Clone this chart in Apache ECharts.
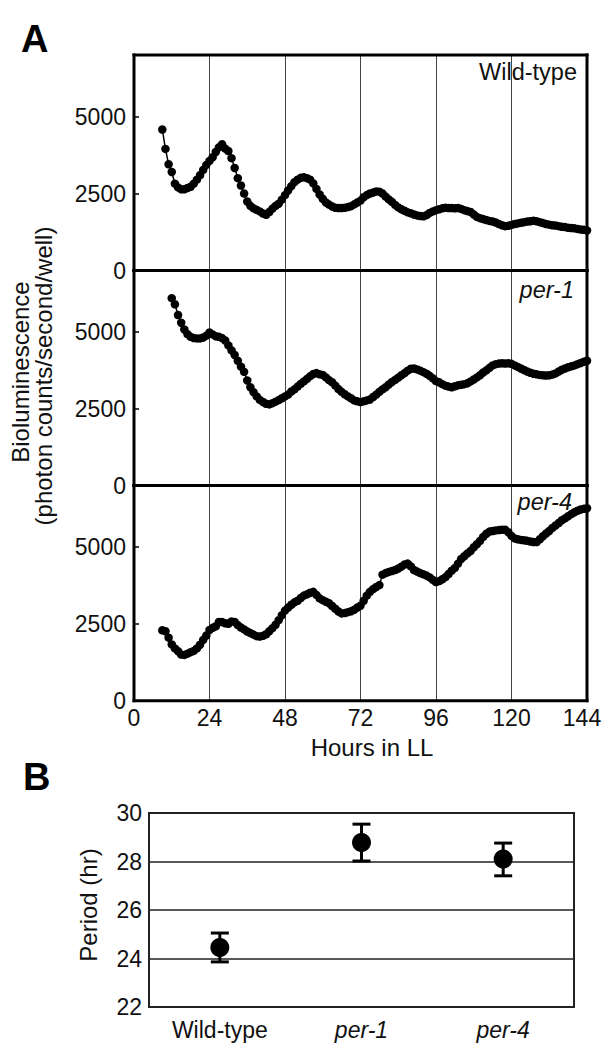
<!DOCTYPE html>
<html>
<head>
<meta charset="utf-8">
<script src="https://cdn.jsdelivr.net/npm/echarts@6/dist/echarts.min.js"></script>
<style>
html,body{margin:0;padding:0;background:#fff;}
#chart{width:603px;height:1043px;}
</style>
</head>
<body>
<div id="chart"></div>
<script>
// ---------- DATA ----------
const hourTicks = [0, 24, 48, 72, 96, 120, 144];
const bioTicks = [0, 2500, 5000];
const panelNames = ['Wild-type', 'per-1', 'per-4'];

// hourly bioluminescence readings, first reading at the start hour
const wtStartHour = 9;
const wtValues = [4580,3950,3450,3200,2820,2700,2640,2640,2680,2720,2820,2950,3100,3270,3430,3560,3680,3850,4000,4100,
3960,3880,3650,3330,3000,2760,2500,2240,2100,2020,1970,1920,1850,1810,1900,2010,2100,2170,2300,2450,
2600,2740,2870,2950,3010,3030,3000,2950,2830,2650,2470,2330,2210,2140,2080,2040,2030,2030,2040,2060,
2090,2150,2210,2270,2380,2450,2500,2530,2570,2560,2500,2400,2310,2230,2130,2050,1990,1940,1890,1860,
1820,1790,1770,1760,1800,1870,1920,1960,1990,2020,2040,2030,2030,2020,2030,2000,1960,1930,1900,1820,
1740,1700,1670,1640,1610,1590,1560,1510,1470,1440,1450,1480,1510,1530,1550,1570,1590,1600,1620,1600,
1570,1540,1510,1490,1470,1460,1440,1420,1410,1390,1380,1370,1350,1330,1320,1300];

const per1StartHour = 12;
const per1Values = [6100,5900,5550,5300,5080,4930,4840,4800,4790,4790,4820,4880,4980,4920,4860,4840,4800,4720,4560,4400,
4250,4060,3870,3700,3420,3200,3040,2900,2790,2720,2660,2640,2680,2730,2780,2840,2900,2960,3060,3130,
3220,3310,3390,3470,3560,3630,3660,3620,3600,3520,3430,3360,3250,3140,3050,2970,2900,2840,2770,2740,
2720,2740,2770,2800,2880,2960,3050,3130,3200,3290,3370,3440,3510,3590,3660,3740,3800,3810,3780,3740,
3690,3640,3570,3490,3400,3360,3300,3250,3220,3200,3230,3260,3280,3300,3330,3390,3450,3520,3590,3680,
3750,3830,3910,3950,3970,3980,3970,3980,3960,3910,3860,3810,3760,3710,3670,3640,3620,3600,3590,3580,
3590,3610,3650,3710,3770,3810,3850,3880,3910,3950,3990,4030,4060];

const per4StartHour = 9;
const per4Values = [2290,2260,2050,1830,1700,1610,1500,1490,1530,1580,1620,1700,1820,1980,2120,2300,2370,2420,2560,2560,
2520,2500,2580,2560,2460,2380,2320,2250,2200,2150,2100,2090,2110,2160,2260,2360,2470,2620,2780,2930,
3030,3120,3200,3250,3340,3420,3460,3510,3540,3440,3330,3270,3220,3170,3080,2990,2900,2840,2850,2880,
2910,2960,3030,3090,3250,3420,3540,3630,3700,3760,4100,4150,4190,4220,4250,4300,4360,4430,4460,4370,
4250,4200,4150,4110,4070,4010,3930,3860,3890,3950,4020,4120,4230,4320,4460,4610,4700,4790,4870,4990,
5090,5200,5330,5430,5500,5520,5540,5550,5560,5560,5480,5360,5280,5250,5230,5220,5200,5180,5160,5160,
5250,5350,5440,5520,5620,5700,5780,5870,5930,6000,6070,6130,6180,6220,6240,6260];

// Panel B: free-running period
const genotypes = ['Wild-type', 'per-1', 'per-4'];
const periodMean = [24.45, 28.78, 28.1];
const periodLow = [23.86, 28.02, 27.41];
const periodHigh = [25.05, 29.54, 28.76];
const periodTicks = [22, 24, 26, 28, 30];

// ---------- CHART ----------
const FONT = 'Arial, "Liberation Sans", sans-serif';
const TXT = '#111';
const chart = echarts.init(document.getElementById('chart'), null, {renderer: 'svg'});

function toPairs(start, vals) { return vals.map((v, i) => [start + i, v]); }
const seriesData = [toPairs(wtStartHour, wtValues), toPairs(per1StartHour, per1Values), toPairs(per4StartHour, per4Values)];

const boxA = [
  {left: 134, width: 453, top: 55, height: 215.5},
  {left: 134, width: 453, top: 270.5, height: 215},
  {left: 134, width: 453, top: 485.5, height: 215.2}
];
const boxB = {left: 149, width: 425, top: 813, height: 194};

const grid = boxA.map(g => ({
  left: g.left, width: g.width, top: g.top, height: g.height,
  show: false, containLabel: false, outerBoundsMode: 'none'
}));
grid.push({left: boxB.left, width: boxB.width, top: boxB.top, height: boxB.height, show: false,
  containLabel: false, outerBoundsMode: 'none'});

const xAxis = [];
const yAxis = [];
[0, 1, 2].forEach(i => {
  xAxis.push({
    type: 'value', gridIndex: i, min: 0, max: 144, interval: 24, position: 'bottom',
    axisLine: {show: false},
    axisTick: {show: false},
    axisLabel: {show: i === 2, fontSize: 23, color: TXT, fontFamily: FONT, margin: 6,
      customValues: hourTicks,
      formatter: v => v === 144 ? '{m|144}' : String(v),
      rich: {m: {fontSize: 23, color: TXT, fontFamily: FONT, padding: [0, 10, 0, 0]}}},
    splitLine: {show: true, lineStyle: {color: '#444', width: 1}}
  });
  yAxis.push({
    type: 'value', gridIndex: i, min: 0, max: 7000, interval: 2500, position: 'left',
    axisLine: {show: false},
    axisTick: {show: true, inside: true, length: 5, lineStyle: {color: '#000', width: 1.5}, customValues: bioTicks},
    axisLabel: {fontSize: 23, color: TXT, fontFamily: FONT, margin: 8, customValues: bioTicks,
      formatter: v => String(v)},
    splitLine: {show: false}
  });
});

xAxis.push({
  type: 'category', gridIndex: 3, data: genotypes, boundaryGap: true,
  axisLine: {show: false}, axisTick: {show: false},
  axisLabel: {fontSize: 23, color: TXT, fontFamily: FONT, margin: 11,
    formatter: v => v === 'Wild-type' ? v : '{i|' + v + '}',
    rich: {i: {fontStyle: 'italic', fontSize: 23, color: TXT, fontFamily: FONT}}},
  splitLine: {show: false}
});
yAxis.push({
  type: 'value', gridIndex: 3, min: 22, max: 30, interval: 2,
  axisLine: {show: false}, axisTick: {show: false},
  axisLabel: {fontSize: 23, color: TXT, fontFamily: FONT, margin: 7, customValues: periodTicks},
  splitLine: {show: true, lineStyle: {color: '#222', width: 1.5}}
});

const series = seriesData.map((d, i) => ({
  type: 'line', xAxisIndex: i, yAxisIndex: i, data: d,
  symbol: 'circle', symbolSize: 8.5, showSymbol: true,
  itemStyle: {color: '#000', opacity: 1}, lineStyle: {color: '#000', width: 1.5},
  silent: true, animation: false, z: 3
}));

series.push({
  type: 'custom', xAxisIndex: 3, yAxisIndex: 3,
  data: genotypes.map((g, i) => [i, periodLow[i], periodHigh[i]]),
  renderItem: function (params, api) {
    const lo = api.coord([api.value(0), api.value(1)]);
    const hi = api.coord([api.value(0), api.value(2)]);
    const cap = 9;
    const st = {stroke: '#000', lineWidth: 3};
    return {type: 'group', children: [
      {type: 'line', shape: {x1: lo[0], y1: lo[1], x2: hi[0], y2: hi[1]}, style: st},
      {type: 'line', shape: {x1: lo[0] - cap, y1: lo[1], x2: lo[0] + cap, y2: lo[1]}, style: st},
      {type: 'line', shape: {x1: hi[0] - cap, y1: hi[1], x2: hi[0] + cap, y2: hi[1]}, style: st}
    ]};
  },
  silent: true, animation: false, z: 4
});
series.push({
  type: 'scatter', xAxisIndex: 3, yAxisIndex: 3,
  data: periodMean.map((v, i) => [i, v]),
  symbol: 'circle', symbolSize: 19, itemStyle: {color: '#000', opacity: 1},
  silent: true, animation: false, z: 5
});

function txt(text, x, y, opts) {
  opts = opts || {};
  return {
    type: 'text', x: x, y: y, rotation: opts.rotation || 0, z: 10, silent: true,
    style: {
      text: text, x: 0, y: 0,
      fontSize: opts.fontSize || 23, fontFamily: FONT,
      fontWeight: opts.fontWeight || 'normal', fontStyle: opts.fontStyle || 'normal',
      fill: opts.fill || TXT, align: opts.align || 'center', verticalAlign: 'middle'
    }
  };
}
// frame of a panel drawn as four edges
function frame(b, color, lw) {
  const l = b.left, t = b.top, r = b.left + b.width, btm = b.top + b.height;
  const st = {stroke: color, lineWidth: lw, lineCap: 'square'};
  return [
    {type: 'line', z: 20, silent: true, shape: {x1: l, y1: t, x2: r, y2: t}, style: st},
    {type: 'line', z: 20, silent: true, shape: {x1: l, y1: btm, x2: r, y2: btm}, style: st},
    {type: 'line', z: 20, silent: true, shape: {x1: l, y1: t, x2: l, y2: btm}, style: st},
    {type: 'line', z: 20, silent: true, shape: {x1: r, y1: t, x2: r, y2: btm}, style: st}
  ];
}

const graphic = [].concat(
  frame(boxA[0], '#000', 3),
  frame(boxA[1], '#000', 3),
  frame(boxA[2], '#000', 3),
  frame(boxB, '#222', 2),
  [
    txt('A', 21, 39, {fontSize: 38, fontWeight: 'bold', align: 'left', fill: '#000'}),
    txt('B', 23, 777, {fontSize: 38, fontWeight: 'bold', align: 'left', fill: '#000'}),
    txt(panelNames[0], 577, 72, {align: 'right', fontSize: 23.5}),
    txt(panelNames[1], 574, 290, {align: 'right', fontStyle: 'italic', fontSize: 23.5}),
    txt(panelNames[2], 572, 502, {align: 'right', fontStyle: 'italic', fontSize: 23.5}),
    txt('Bioluminescence', 20, 372, {rotation: Math.PI / 2, fontSize: 24}),
    txt('(photon counts/second/well)', 43, 376, {rotation: Math.PI / 2, fontSize: 24}),
    txt('Hours in LL', 372, 747, {fontSize: 24}),
    txt('Period (hr)', 88, 905, {rotation: Math.PI / 2, fontSize: 24})
  ]
);

chart.setOption({
  backgroundColor: '#fff',
  animation: false,
  grid: grid, xAxis: xAxis, yAxis: yAxis, series: series, graphic: graphic
});
</script>
</body>
</html>
